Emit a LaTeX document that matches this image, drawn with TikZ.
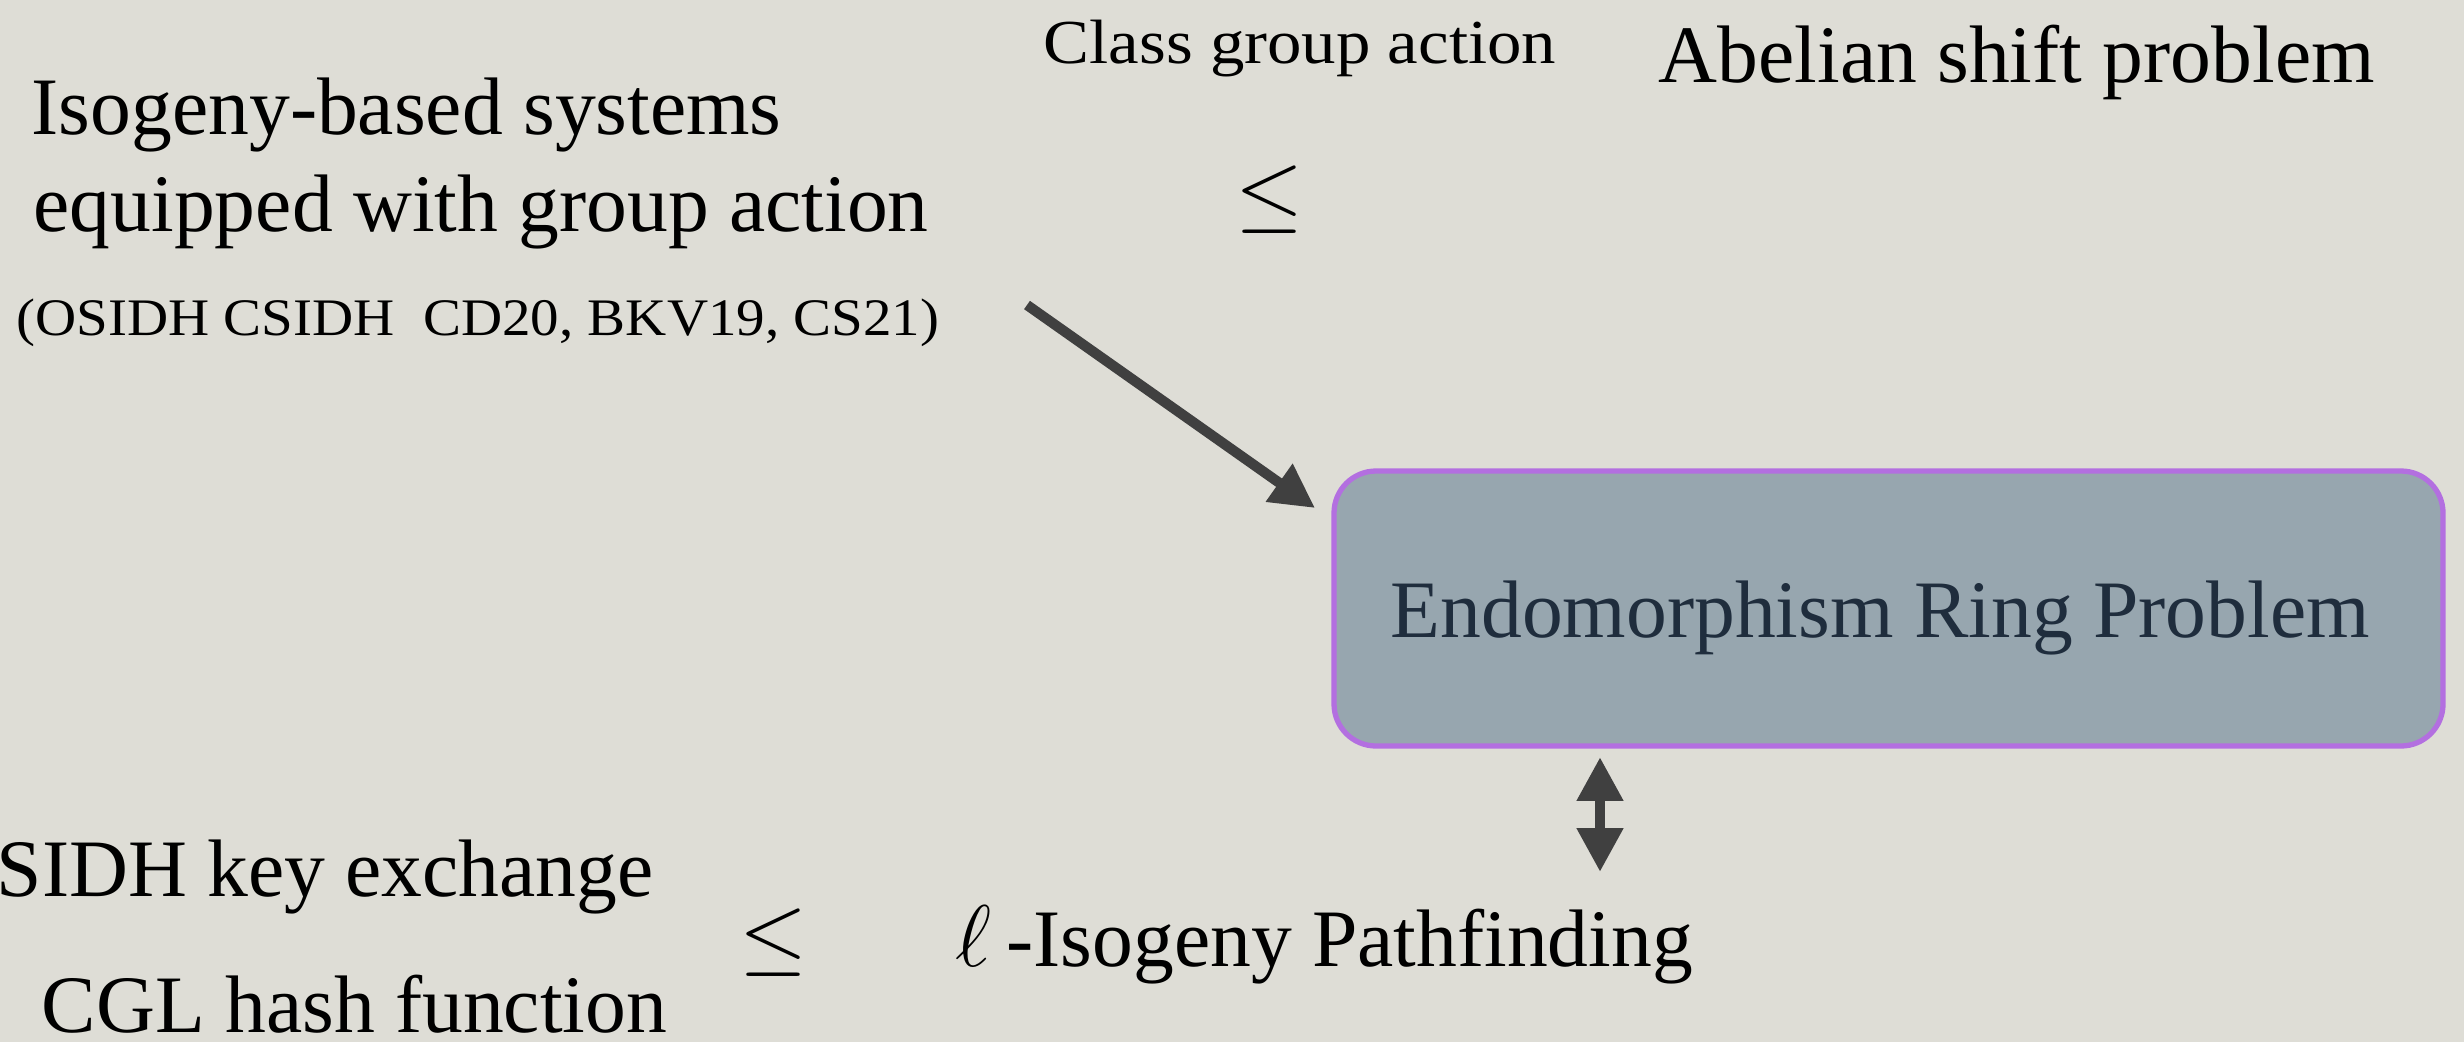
\documentclass[tikz,border=0pt]{standalone}
\usepackage{fontspec}
\setmainfont{Liberation Serif}
\newfontfamily\widerA[FakeStretch=1.10]{Liberation Serif}
\newfontfamily\widerB[FakeStretch=1.08]{Liberation Serif}
\usetikzlibrary{arrows.meta}
\definecolor{bg}{HTML}{DEDDD6}
\definecolor{arr}{HTML}{404040}
\definecolor{boxfill}{HTML}{97A6AF}
\definecolor{boxline}{HTML}{B36FE0}
\definecolor{boxtext}{HTML}{1F2D3D}
\tikzset{
  big/.style={inner sep=0pt, font=\fontsize{23.2}{27}\selectfont, text=black},
  small/.style={inner sep=0pt, font=\widerA\fontsize{17.8}{20}\selectfont, text=black},
  refs/.style={inner sep=0pt, font=\widerB\fontsize{15}{18}\selectfont, text=black},
  leq/.style={inner sep=0pt, font=\fontsize{26}{30}\selectfont, text=black},
  endobox/.style={draw=boxline, line width=1.5pt, fill=boxfill, rounded corners=0.42cm},
  thickarrow/.style={draw=arr, line width=2.9pt, -{Triangle[width=12.5pt,length=12.5pt]}},
  dblarrow/.style={draw=arr, line width=3.1pt, {Triangle[width=12.5pt,length=12.5pt]}-{Triangle[width=12.5pt,length=12.5pt]}}
}
\begin{document}
\begin{tikzpicture}[x=0.01cm,y=-0.01cm]
\fill[bg] (0,0) rectangle (2464,1042);
\useasboundingbox (0,0) rectangle (2464,1042);
% texts
\node[big, anchor=base west] (iso) at (31,134) {Isogeny-based systems};
\node[big, anchor=base west] (equ) at (33,231) {equipped with group action};
\node[refs, anchor=base west] (refs) at (16,335) {(OSIDH CSIDH\ \ CD20, BKV19, CS21)};
\node[small, anchor=base west] (cga) at (1043,63) {Class group action};
\node[big, anchor=base west] (abs) at (1658,82) {Abelian shift problem};
\node[leq] (leqtop) at (1270,200) {$\leq$};
% box
\draw[endobox] (1334,471) rectangle (2443,746);
\node[big, anchor=base west, text=boxtext] (endo) at (1390,637) {Endomorphism Ring Problem};
\coordinate (astart) at (1027,305);
\coordinate (aend) at (1315,508);
\draw[thickarrow] (astart) -- (aend);
\coordinate (dtop) at (1600,757);
\coordinate (dbot) at (1600,872);
\draw[dblarrow] (dtop) -- (dbot);
% bottom
\node[big, anchor=base west] (sidh) at (-4,896) {SIDH key exchange};
\node[big, anchor=base west] (cgl) at (41,1032) {CGL hash function};
\node[leq] (leqbot) at (774,943) {$\leq$};
\node[big, anchor=base west] (path) at (955,966) {$\ell$\hspace{0.18em}-Isogeny Pathfinding};
\end{tikzpicture}
\end{document}
